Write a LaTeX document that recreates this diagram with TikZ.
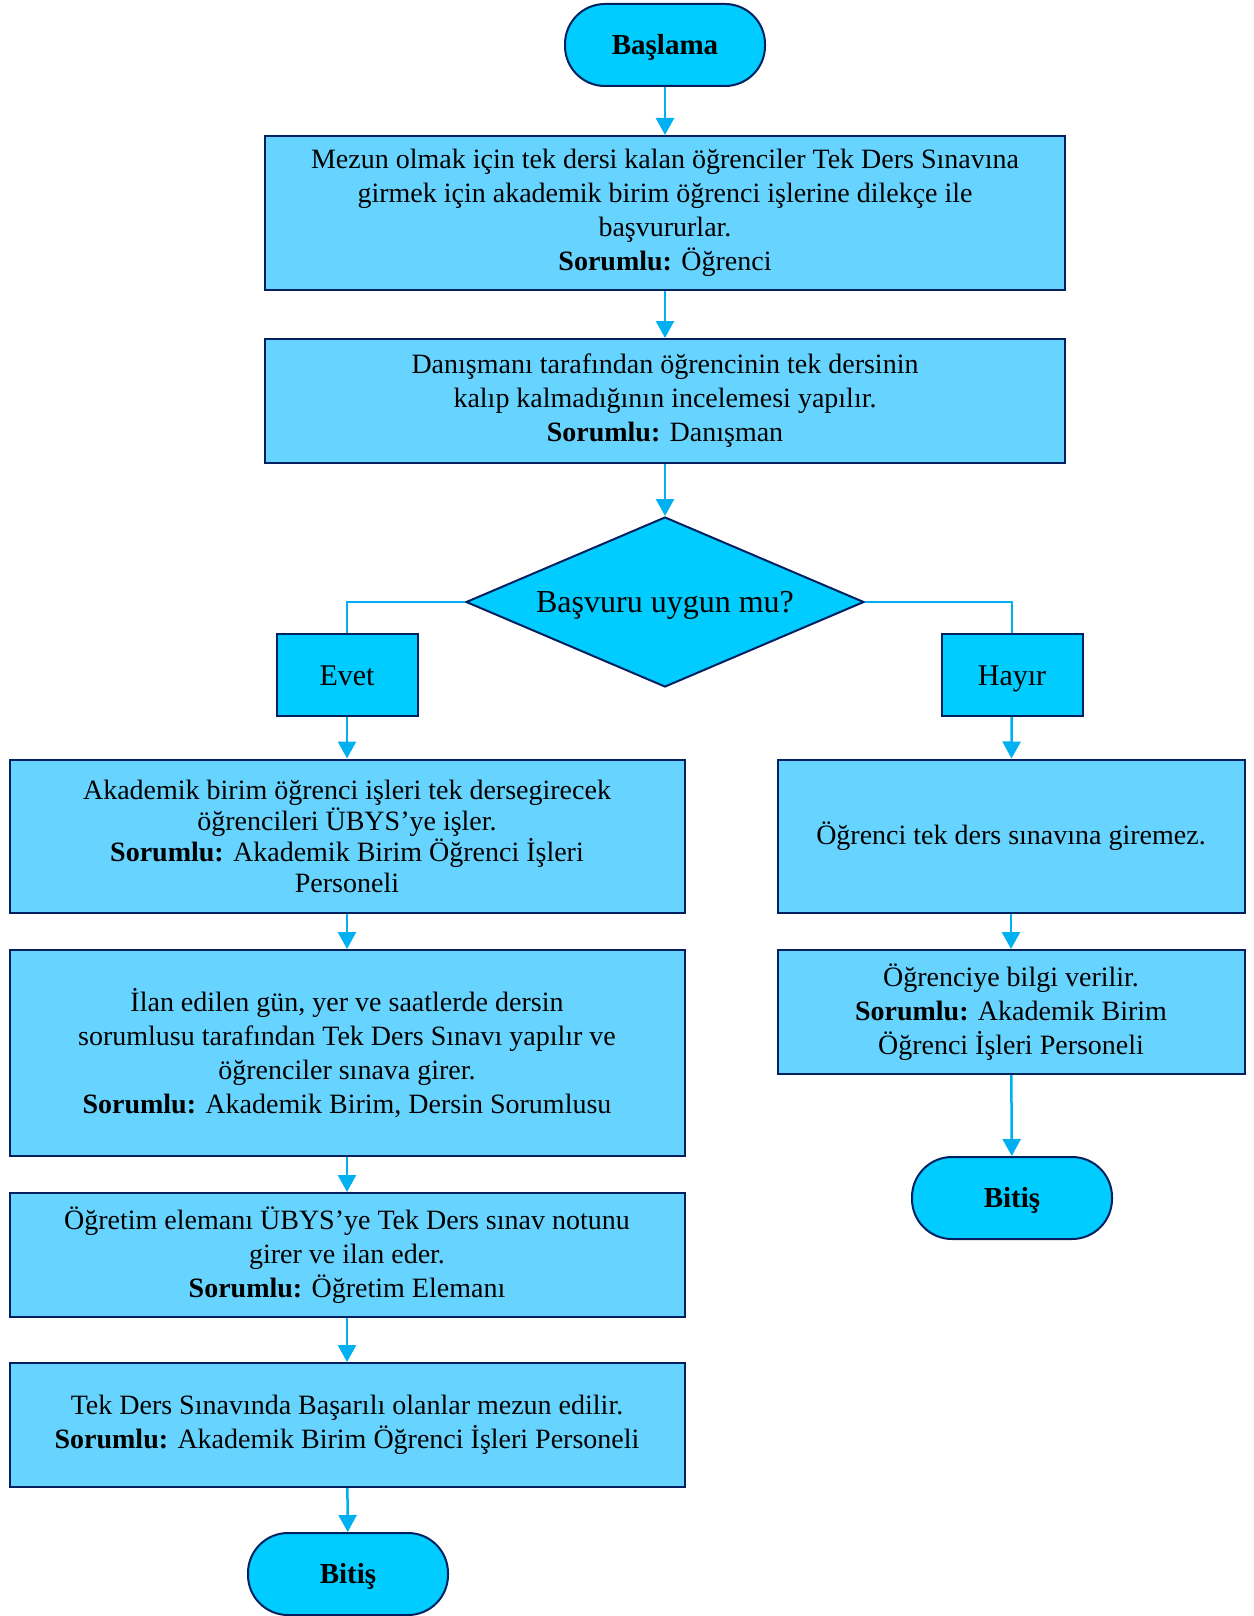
\documentclass[tikz,border=0pt]{standalone}
\usepackage{fontspec}
\setmainfont{Liberation Serif}
\usetikzlibrary{shapes.geometric,arrows.meta}

\definecolor{termfill}{RGB}{0,204,255}
\definecolor{boxfill}{RGB}{102,212,255}
\definecolor{edgeblue}{RGB}{0,32,96}
\definecolor{arrowblue}{RGB}{0,176,240}

\begin{document}
\begin{tikzpicture}[
    x=1pt,y=-1pt,
    terminal/.style={rectangle,rounded corners=40pt,draw=edgeblue,line width=2pt,
      fill=termfill,minimum width=200pt,minimum height=82pt,
      text height=19pt,text depth=0pt,
      font=\fontsize{29}{34}\selectfont\bfseries},
    procbox/.style={rectangle,draw=edgeblue,line width=2pt,fill=boxfill,
      align=center,inner sep=0pt,font=\fontsize{28}{34}\selectfont},
    answer/.style={rectangle,draw=edgeblue,line width=2pt,fill=termfill,
      minimum width=141pt,minimum height=82pt,text height=20pt,text depth=0pt,
      font=\fontsize{30}{34}\selectfont},
    decision/.style={diamond,aspect=2.34,draw=edgeblue,line width=2pt,fill=termfill,
      inner sep=0pt,minimum width=398pt,minimum height=170pt,
      text height=21pt,text depth=0pt,
      font=\fontsize{32}{38}\selectfont},
    flow/.style={arrowblue,line width=2.5pt,-{Triangle[length=17pt,width=18pt]}},
    branch/.style={arrowblue,line width=2.5pt}
  ]

    \useasboundingbox (0,0) rectangle (1253,1616);

    % Main column
    \node[terminal] (start) at (665,45) {Başlama};
    \node[procbox,minimum width=800pt,minimum height=154pt] (apply) at (665,213)
      {Mezun olmak için tek dersi kalan öğrenciler Tek Ders Sınavına\\
       girmek için akademik birim öğrenci işlerine dilekçe ile\\
       başvururlar.\\
       \textbf{Sorumlu:} Öğrenci};
    \node[procbox,minimum width=800pt,minimum height=124pt] (check) at (665,401)
      {Danışmanı tarafından öğrencinin tek dersinin\\
       kalıp kalmadığının incelemesi yapılır.\\
       \textbf{Sorumlu:} Danışman};
    \node[decision] (ok) at (665,602) {Başvuru uygun mu?};

    % Answers
    \node[answer] (yes) at (347,675) {Evet};
    \node[answer] (no) at (1012,675) {Hayır};

    % Evet branch
    \node[procbox,minimum width=675pt,minimum height=153pt,
      font=\fontsize{28}{31}\selectfont] (enter) at (347,836)
      {Akademik birim öğrenci işleri tek dersegirecek\\
       öğrencileri ÜBYS’ye işler.\\
       \textbf{Sorumlu:} Akademik Birim Öğrenci İşleri\\
       Personeli};
    \node[procbox,minimum width=675pt,minimum height=206pt] (exam) at (347,1053)
      {İlan edilen gün, yer ve saatlerde dersin\\
       sorumlusu tarafından Tek Ders Sınavı yapılır ve\\
       öğrenciler sınava girer.\\
       \textbf{Sorumlu:} Akademik Birim, Dersin Sorumlusu};
    \node[procbox,minimum width=675pt,minimum height=124pt] (grade) at (347,1255)
      {Öğretim elemanı ÜBYS’ye Tek Ders sınav notunu\\
       girer ve ilan eder.\\
       \textbf{Sorumlu:} Öğretim Elemanı};
    \node[procbox,minimum width=675pt,minimum height=124pt] (grad) at (347,1425)
      {Tek Ders Sınavında Başarılı olanlar mezun edilir.\\
       \textbf{Sorumlu:} Akademik Birim Öğrenci İşleri Personeli};
    \node[terminal] (endyes) at (348,1574) {Bitiş};

    % Hayir branch
    \node[procbox,minimum width=467pt,minimum height=153pt] (reject) at (1011,836)
      {Öğrenci tek ders sınavına giremez.};
    \node[procbox,minimum width=467pt,minimum height=124pt] (inform) at (1011,1012)
      {Öğrenciye bilgi verilir.\\
       \textbf{Sorumlu:} Akademik Birim\\
       Öğrenci İşleri Personeli};
    \node[terminal] (endno) at (1012,1198) {Bitiş};

    % Connectors
    \draw[flow] (start) -- (apply);
    \draw[flow] (apply) -- (check);
    \draw[flow] (check) -- (ok);
    \draw[branch] (ok.west) -| (yes.north);
    \draw[branch] (ok.east) -| (no.north);
    \draw[flow] (yes) -- (enter);
    \draw[flow] (enter) -- (exam);
    \draw[flow] (exam) -- (grade);
    \draw[flow] (grade) -- (grad);
    \draw[flow] (grad) -- (endyes);
    \draw[flow] (no) -- (reject);
    \draw[flow] (reject) -- (inform);
    \draw[flow] (inform) -- (endno);

  \end{tikzpicture}
\end{document}
